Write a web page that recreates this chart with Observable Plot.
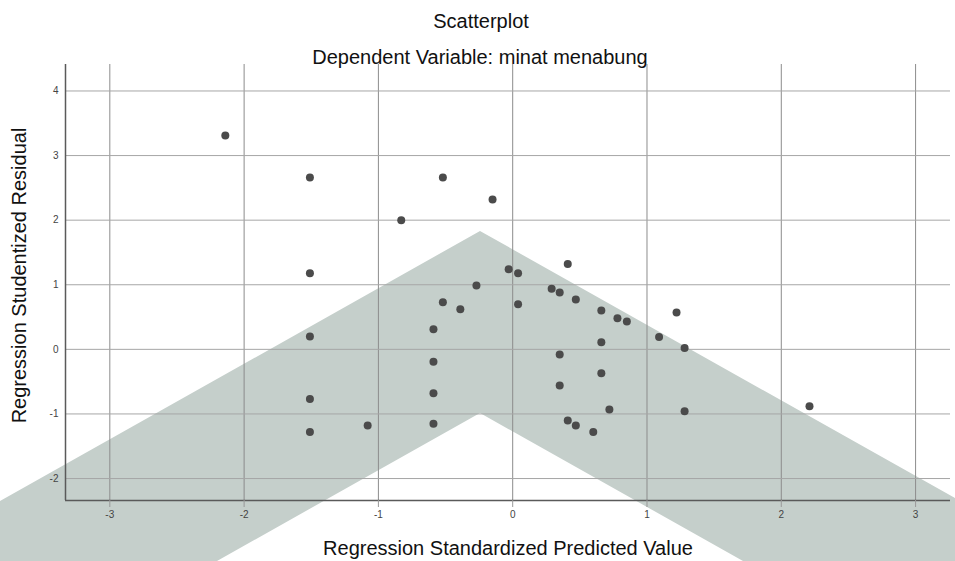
<!DOCTYPE html>
<html><head><meta charset="utf-8">
<script src="https://cdn.jsdelivr.net/npm/d3@7"></script>
<script src="https://cdn.jsdelivr.net/npm/@observablehq/plot@0.6"></script>
<style>
html,body{margin:0;padding:0;background:#fff;}
#wrap{position:relative;width:955px;height:561px;overflow:hidden;}
#wm{position:absolute;left:0;top:0;}
#chart{position:absolute;left:0;top:0;}
</style></head><body>
<div id="wrap">
<svg id="wm" width="955" height="561"><polygon points="0,501 480,231 955,498 955,561 743,561 480,413 217,561 0,561" fill="#c5cfcb"/></svg>
<div id="chart"></div>
</div>
<script>
const predicted = [-2.14,-1.51,-0.52,-0.15,-0.83,-1.51,0.41,-0.03,0.04,-0.27,0.29,0.35,0.47,-0.52,-0.39,0.04,0.66,0.78,0.85,1.22,1.09,1.28,-1.51,-0.59,0.66,0.35,-0.59,0.66,0.35,-0.59,-1.51,0.72,1.28,2.21,-0.59,-1.08,0.41,0.47,0.60,-1.51];
const residual  = [3.31,2.66,2.66,2.32,2.00,1.18,1.32,1.24,1.18,0.99,0.94,0.88,0.77,0.73,0.62,0.70,0.60,0.48,0.43,0.57,0.19,0.02,0.20,0.31,0.11,-0.08,-0.19,-0.37,-0.56,-0.68,-0.77,-0.93,-0.96,-0.88,-1.15,-1.18,-1.10,-1.18,-1.28,-1.28];
const xTicks = [-3,-2,-1,0,1,2,3];
const yTicks = [-2,-1,0,1,2,3,4];
const title = "Scatterplot";
const subtitle = "Dependent Variable: minat menabung";
const xLabel = "Regression Standardized Predicted Value";
const yLabel = "Regression Studentized Residual";

const points = predicted.map((x,i)=>({x, y:residual[i]}));
const xDomain = [-3.33, 3.26];
const yDomain = [-2.34, 4.41];
const font = "'Liberation Sans', Arial, sans-serif";

const plot = Plot.plot({
  width:955, height:561,
  marginTop:64, marginLeft:65, marginRight:5, marginBottom:61,
  style:{background:"transparent", fontFamily:font},
  x:{domain:xDomain},
  y:{domain:yDomain},
  marks:[
    Plot.gridX(xTicks,{stroke:"#8c8c8c",strokeOpacity:1}),
    Plot.gridY(yTicks,{stroke:"#a6a6a6",strokeOpacity:1}),
    Plot.ruleX([xDomain[0]],{stroke:"#5a5a5a",strokeWidth:1.5}),
    Plot.ruleY([yDomain[0]],{stroke:"#5a5a5a",strokeWidth:1.5}),
    Plot.axisX(xTicks,{tickSize:7,tickPadding:3,stroke:"#999",fill:"#444",fontSize:10,tickFormat:d=>String(d),label:null}),
    Plot.axisY(yTicks,{tickSize:0,tickPadding:7,fill:"#444",fontSize:10,tickFormat:d=>String(d),label:null}),
    Plot.dot(points,{x:"x",y:"y",r:4,fill:"#4b4b4b",stroke:"none"}),
    Plot.text([title],{frameAnchor:"top",dx:-27,dy:-51,fontSize:20,fill:"#111"}),
    Plot.text([subtitle],{frameAnchor:"top",dx:-28,dy:-15,fontSize:20,fill:"#111"}),
    Plot.text([xLabel],{frameAnchor:"bottom",dy:54,fontSize:20,fill:"#111"}),
    Plot.text([yLabel],{frameAnchor:"left",textAnchor:"middle",dx:-46,dy:-7,rotate:-90,fontSize:20,fill:"#111"})
  ]
});
document.getElementById("chart").appendChild(plot);
</script>
</body></html>
